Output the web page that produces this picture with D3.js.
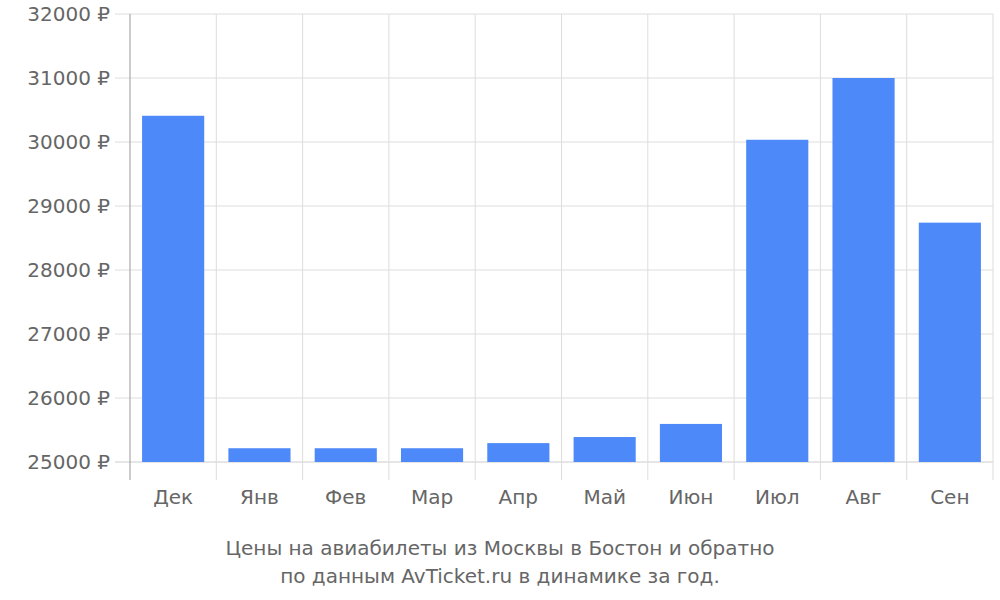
<!DOCTYPE html>
<html><head><meta charset="utf-8">
<script src="https://cdn.jsdelivr.net/npm/d3@7"></script>
<style>body{margin:0;background:#fff}svg{font-family:"DejaVu Sans",sans-serif}</style>
</head><body><svg id="c" width="1000" height="600"></svg>
<script>
const categories = ["Дек","Янв","Фев","Мар","Апр","Май","Июн","Июл","Авг","Сен"];
const prices = [30410, 25215, 25215, 25215, 25295, 25390, 25595, 30035, 31000, 28740];
const yTicks = [25000,26000,27000,28000,29000,30000,31000,32000];
const titleLines = ["Цены на авиабилеты из Москвы в Бостон и обратно","по данным AvTicket.ru в динамике за год."];

const svg = d3.select("#c");
const L=130, R=993, T=14, B=462;
const x = d3.scaleBand().domain(categories).range([L,R]).paddingInner(0.28).paddingOuter(0.14);
const xb = d3.scaleBand().domain(categories).range([L,R]);
const y = d3.scaleLinear().domain([25000,32000]).range([B,T]);
const grid="#dddddd", txt="#666666";

// horizontal grid + ticks
svg.selectAll(".hg").data(yTicks).join("line")
  .attr("x1",115).attr("x2",R).attr("y1",d=>y(d)).attr("y2",d=>y(d))
  .attr("stroke",d=>d===25000?"#cccccc":grid);
// vertical grid
const vb = categories.map(c=>xb(c)).concat([R]);
svg.selectAll(".vg").data(vb).join("line")
  .attr("x1",d=>d).attr("x2",d=>d).attr("y1",T).attr("y2",480)
  .attr("stroke",(d,i)=>i===0?"#999":grid);

svg.selectAll(".bar").data(categories).join("rect")
  .attr("x",c=>x(c)).attr("width",x.bandwidth())
  .attr("y",(c,i)=>y(prices[i])).attr("height",(c,i)=>B-y(prices[i]))
  .attr("fill","#4d89f9");

svg.selectAll(".yl").data(yTicks).join("text")
  .attr("x",110).attr("y",d=>y(d)).attr("dy","0.36em").attr("text-anchor","end")
  .attr("font-size",20).attr("fill",txt).text(d=>d+" ₽");
svg.selectAll(".xl").data(categories).join("text")
  .attr("x",c=>xb(c)+xb.bandwidth()/2).attr("y",504).attr("text-anchor","middle")
  .attr("font-size",20).attr("fill",txt).text(c=>c);
svg.selectAll(".tt").data(titleLines).join("text")
  .attr("x",500).attr("y",(d,i)=>555+i*28).attr("text-anchor","middle")
  .attr("font-size",20).attr("fill",txt).text(d=>d);
</script></body></html>
